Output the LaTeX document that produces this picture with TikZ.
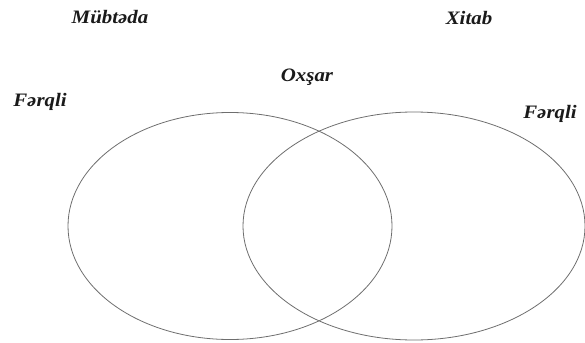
\documentclass[tikz,border=0pt]{standalone}
\usepackage{fontspec}
\setmainfont{Liberation Serif}
\usepackage{tikz}
\usetikzlibrary{shapes.geometric}
\definecolor{ink}{HTML}{1A1A1A}
\definecolor{line}{HTML}{6E6E6E}

\begin{document}
\begin{tikzpicture}[
  x=1pt, y=-1pt,
  lbl/.style={font=\fontsize{19}{21}\selectfont\bfseries\itshape, text=ink, inner sep=0pt, xscale=1.1},
  set/.style={draw=line, ellipse, line width=0.8pt, inner sep=0pt}
]
\useasboundingbox (0,0) rectangle (585,342);
\node[set, minimum width=324pt, minimum height=227pt] (left) at (230,226) {};
\node[set, minimum width=342pt, minimum height=228pt] (right) at (414,226) {};
\node[lbl] (mub) at (110,17) {Mübtəda};
\node[lbl] (xit) at (469,18) {Xitab};
\node[lbl] (fl) at (40,102) {Fərqli};
\node[lbl] (ox) at (307,77) {Oxşar};
\node[lbl] (fr) at (550,114) {Fərqli};
\end{tikzpicture}
\end{document}
